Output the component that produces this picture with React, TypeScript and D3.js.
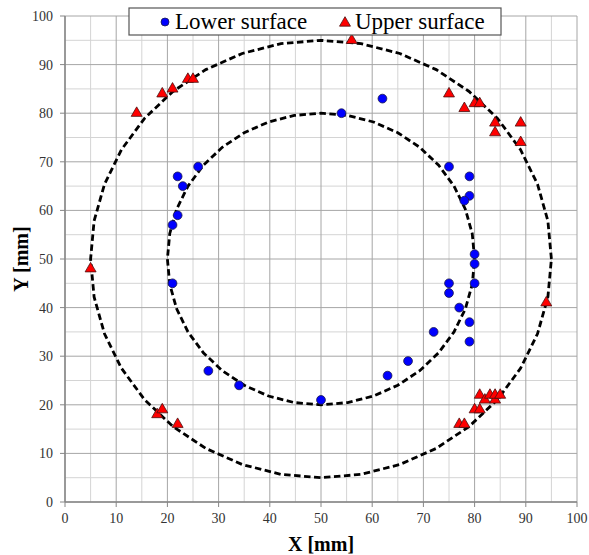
import React, { useEffect } from "react";
import * as d3 from "d3";

const W = 589;
const H = 555;

const lowerX = [54, 62, 26, 22, 23, 22, 21, 21, 28, 34, 50, 63, 67, 72, 75, 79, 79, 78, 80, 80, 75, 80, 75, 77, 79, 79];
const lowerY = [80, 83, 69, 67, 65, 59, 57, 45, 27, 24, 21, 26, 29, 35, 69, 67, 63, 62, 51, 49, 45, 45, 43, 40, 37, 33];

const upperX = [56, 14, 19, 21, 24, 25, 75, 78, 80, 81, 84, 89, 84, 89, 5, 94, 18, 19, 22, 77, 78, 80, 81, 81, 82, 83, 84, 84, 85];
const upperY = [95, 80, 84, 85, 87, 87, 84, 81, 82, 82, 78, 78, 76, 74, 48, 41, 18, 19, 16, 16, 16, 19, 19, 22, 21, 22, 21, 22, 22];

const circleCenter = [50, 50];
const circleRadii = [30, 45];
const circleSegments = 36;

const xTicks = [0, 10, 20, 30, 40, 50, 60, 70, 80, 90, 100];
const yTicks = [0, 10, 20, 30, 40, 50, 60, 70, 80, 90, 100];
const minorTicks = [5, 15, 25, 35, 45, 55, 65, 75, 85, 95];

const legendLabels = ["Lower surface", "Upper surface"];

const m = { left: 65, right: 12, top: 16, bottom: 53 };
const FONT = "Liberation Serif, Times New Roman, Times, DejaVu Serif, serif";

export default function App() {
  useEffect(() => {
    document.body.style.margin = "0";
  }, []);

  const x = d3.scaleLinear().domain([0, 100]).range([m.left, W - m.right]);
  const y = d3.scaleLinear().domain([0, 100]).range([H - m.bottom, m.top]);

  const ringPts = (r: number) =>
    d3.range(circleSegments + 1).map((i) => {
      const a = (i / circleSegments) * 2 * Math.PI;
      return [circleCenter[0] + r * Math.cos(a), circleCenter[1] + r * Math.sin(a)] as [number, number];
    });
  const line = d3
    .line<[number, number]>()
    .x((d) => x(d[0]))
    .y((d) => y(d[1]));

  const tri = d3.symbol().type(d3.symbolTriangle).size(52)();
  const ts = { fontFamily: FONT };

  const lx0 = 129, ly0 = 8, lx1 = 501, ly1 = 35;

  return (
    <svg width={W} height={H} style={{ display: "block", background: "#fff", fontFamily: FONT }}>
      {minorTicks.map((t) => (
        <g key={"m" + t}>
          <line x1={x(t)} x2={x(t)} y1={y(0)} y2={y(100)} stroke="#d4d4d4" strokeWidth={1} />
          <line x1={x(0)} x2={x(100)} y1={y(t)} y2={y(t)} stroke="#d4d4d4" strokeWidth={1} />
        </g>
      ))}
      {xTicks.map((t) => (
        <line key={"gx" + t} x1={x(t)} x2={x(t)} y1={y(0)} y2={y(100)} stroke="#a6a6a6" strokeWidth={1} />
      ))}
      {yTicks.map((t) => (
        <line key={"gy" + t} x1={x(0)} x2={x(100)} y1={y(t)} y2={y(t)} stroke="#a6a6a6" strokeWidth={1} />
      ))}
      <line x1={x(0)} x2={x(0)} y1={y(0)} y2={y(100)} stroke="#868686" strokeWidth={1.5} />
      <line x1={x(0)} x2={x(100)} y1={y(0)} y2={y(0)} stroke="#868686" strokeWidth={1.5} />
      {xTicks.map((t) => (
        <g key={"tx" + t}>
          <line x1={x(t)} x2={x(t)} y1={y(0)} y2={y(0) + 5} stroke="#868686" strokeWidth={1} />
          <text x={x(t)} y={y(0) + 21} textAnchor="middle" fontSize={14} fill="#333" style={ts}>
            {t}
          </text>
        </g>
      ))}
      {yTicks.map((t) => (
        <g key={"ty" + t}>
          <line x1={x(0) - 5} x2={x(0)} y1={y(t)} y2={y(t)} stroke="#868686" strokeWidth={1} />
          <text x={x(0) - 12} y={y(t) + 5} textAnchor="end" fontSize={14} fill="#333" style={ts}>
            {t}
          </text>
        </g>
      ))}
      {circleRadii.map((r) => (
        <path key={"r" + r} d={line(ringPts(r)) || ""} fill="none" stroke="#000" strokeWidth={2.8} strokeDasharray="6.5,3.5" />
      ))}
      {lowerX.map((v, i) => (
        <circle key={"l" + i} cx={x(v)} cy={y(lowerY[i])} r={4.4} fill="#0000ff" stroke="#1a1a4a" strokeWidth={0.8} />
      ))}
      {upperX.map((v, i) => (
        <path key={"u" + i} d={tri || ""} transform={`translate(${x(v)},${y(upperY[i])})`} fill="#ff0000" stroke="#4a1010" strokeWidth={0.8} />
      ))}
      <rect x={lx0} y={ly0} width={lx1 - lx0} height={ly1 - ly0} fill="#fff" stroke="#555" strokeWidth={1.2} />
      <circle cx={165} cy={22} r={4} fill="#0000ff" stroke="#1a1a4a" strokeWidth={0.8} />
      <text x={175} y={29} fontSize={23} fill="#000" style={ts}>
        {legendLabels[0]}
      </text>
      <path d={tri || ""} transform="translate(345,23)" fill="#ff0000" stroke="#4a1010" strokeWidth={0.8} />
      <text x={355} y={29} fontSize={23} fill="#000" style={ts}>
        {legendLabels[1]}
      </text>
      <text x={x(50)} y={551} textAnchor="middle" fontSize={20} fontWeight="bold" fill="#000" style={ts}>
        X [mm]
      </text>
      <text transform={`translate(28,${y(50)}) rotate(-90)`} textAnchor="middle" fontSize={20} fontWeight="bold" fill="#000" style={ts}>
        Y [mm]
      </text>
    </svg>
  );
}
